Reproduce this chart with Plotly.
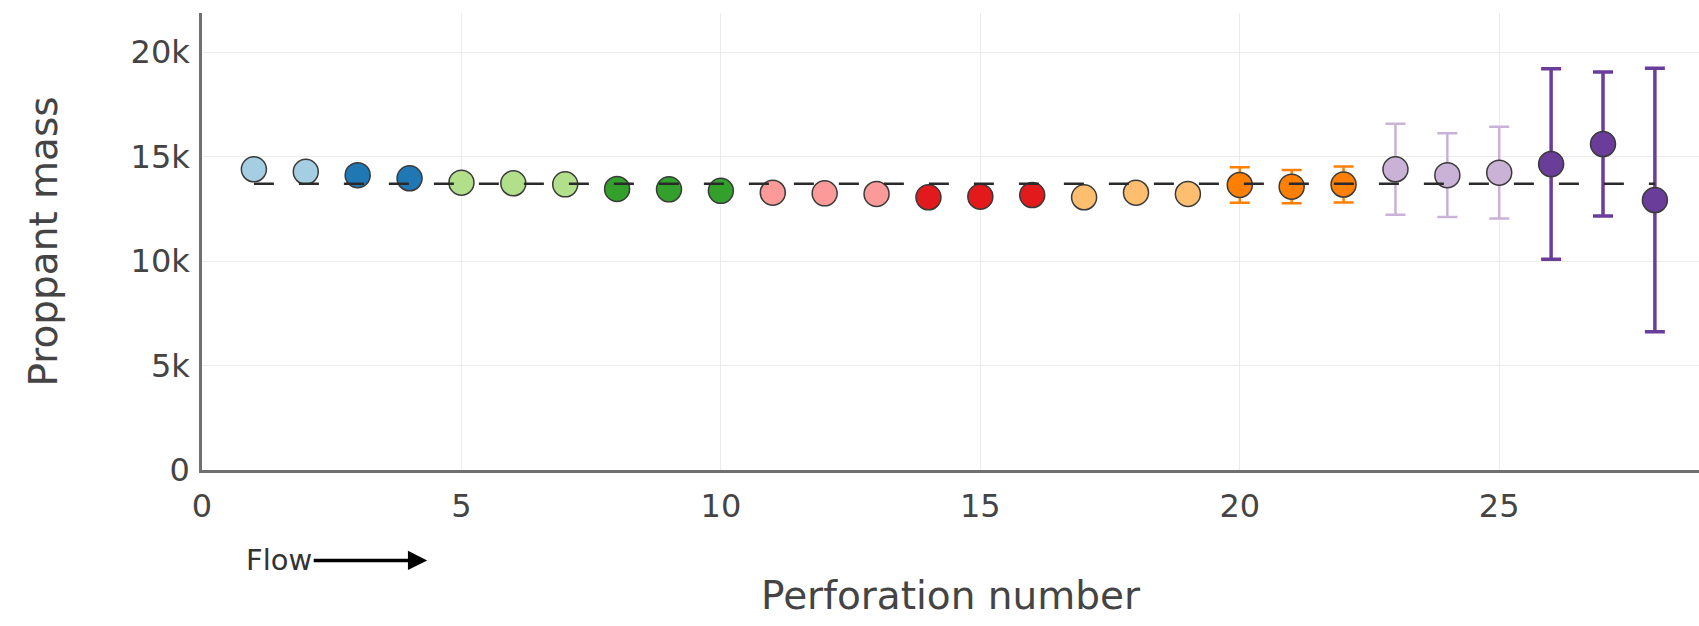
import plotly.graph_objects as go

# ---- data ----
perforation = list(range(1, 29))
proppant_mass = [14390, 14270, 14110, 13960, 13750, 13720, 13670, 13450, 13430, 13360,
                 13270, 13240, 13210, 13050, 13080, 13160, 13050, 13270, 13210, 13640,
                 13560, 13660, 14390, 14110, 14230, 14640, 15600, 12920]
mass_error = [0, 0, 0, 0, 0, 0, 0, 0, 0, 0,
              0, 0, 0, 0, 0, 0, 0, 0, 0, 850,
              800, 860, 2180, 2000, 2200, 4560, 3450, 6300]
mean_mass = 13700
group_sizes = [2, 2, 3, 3, 3, 3, 3, 3, 3, 3]
group_colors = ["#a6cee3", "#1f78b4", "#b2df8a", "#33a02c", "#fb9a99",
                "#e31a1c", "#fdbf6f", "#ff7f00", "#cab2d6", "#6a3d9a"]
x_ticks = [0, 5, 10, 15, 20, 25]
y_ticks = [0, 5000, 10000, 15000, 20000]
y_tick_labels = ["0", "5k", "10k", "15k", "20k"]

FONT = "DejaVu Sans"
fig = go.Figure()

start = 0
for size, color in zip(group_sizes, group_colors):
    xs = perforation[start:start + size]
    ys = proppant_mass[start:start + size]
    es = mass_error[start:start + size]
    start += size
    has_err = any(e > 0 for e in es)
    thick = 3.5 if color == "#6a3d9a" else 2.5
    fig.add_trace(go.Scatter(
        x=xs, y=ys, mode="markers",
        marker=dict(size=25, color=color, line=dict(color="#3a3a3a", width=1.5)),
        error_y=dict(type="data", array=es, visible=has_err, color=color,
                     thickness=thick, width=10),
        showlegend=False,
    ))

fig.add_trace(go.Scatter(
    x=[perforation[0], perforation[-1]], y=[mean_mass, mean_mass], mode="lines",
    line=dict(color="#2a2a2a", width=2.5, dash="20px,25px"),
    showlegend=False,
))

fig.add_annotation(
    x=4.34, y=-0.198, xref="x", yref="paper",
    ax=-148, ay=0, text="Flow", showarrow=True,
    arrowhead=2, arrowsize=1.1, arrowwidth=3.5, arrowcolor="black",
    font=dict(family=FONT, size=29, color="#333"),
)

fig.update_layout(
    width=1699, height=626,
    margin=dict(l=202, r=0, t=13, b=156),
    paper_bgcolor="white", plot_bgcolor="white",
    font=dict(family=FONT, color="#444"),
    xaxis=dict(
        range=[0, 28.85], tickvals=x_ticks, showgrid=True, gridcolor="#ececec", gridwidth=1,
        showline=True, linecolor="#707070", linewidth=2.5, zeroline=False,
        ticks="outside", ticklen=6, tickcolor="rgba(0,0,0,0)",
        tickfont=dict(family=FONT, size=32, color="#444"),
        title=dict(text="Perforation number", font=dict(family=FONT, size=39, color="#444"),
                   standoff=58),
    ),
    yaxis=dict(
        range=[0, 21870], tickvals=y_ticks, ticktext=y_tick_labels,
        showgrid=True, gridcolor="#ececec", gridwidth=1,
        showline=True, linecolor="#707070", linewidth=2.5, zeroline=False,
        ticks="outside", ticklen=3, tickcolor="rgba(0,0,0,0)",
        tickfont=dict(family=FONT, size=32, color="#444"),
        title=dict(text="Proppant mass", font=dict(family=FONT, size=39, color="#444"),
                   standoff=61),
    ),
)

fig.write_html("out.html")
